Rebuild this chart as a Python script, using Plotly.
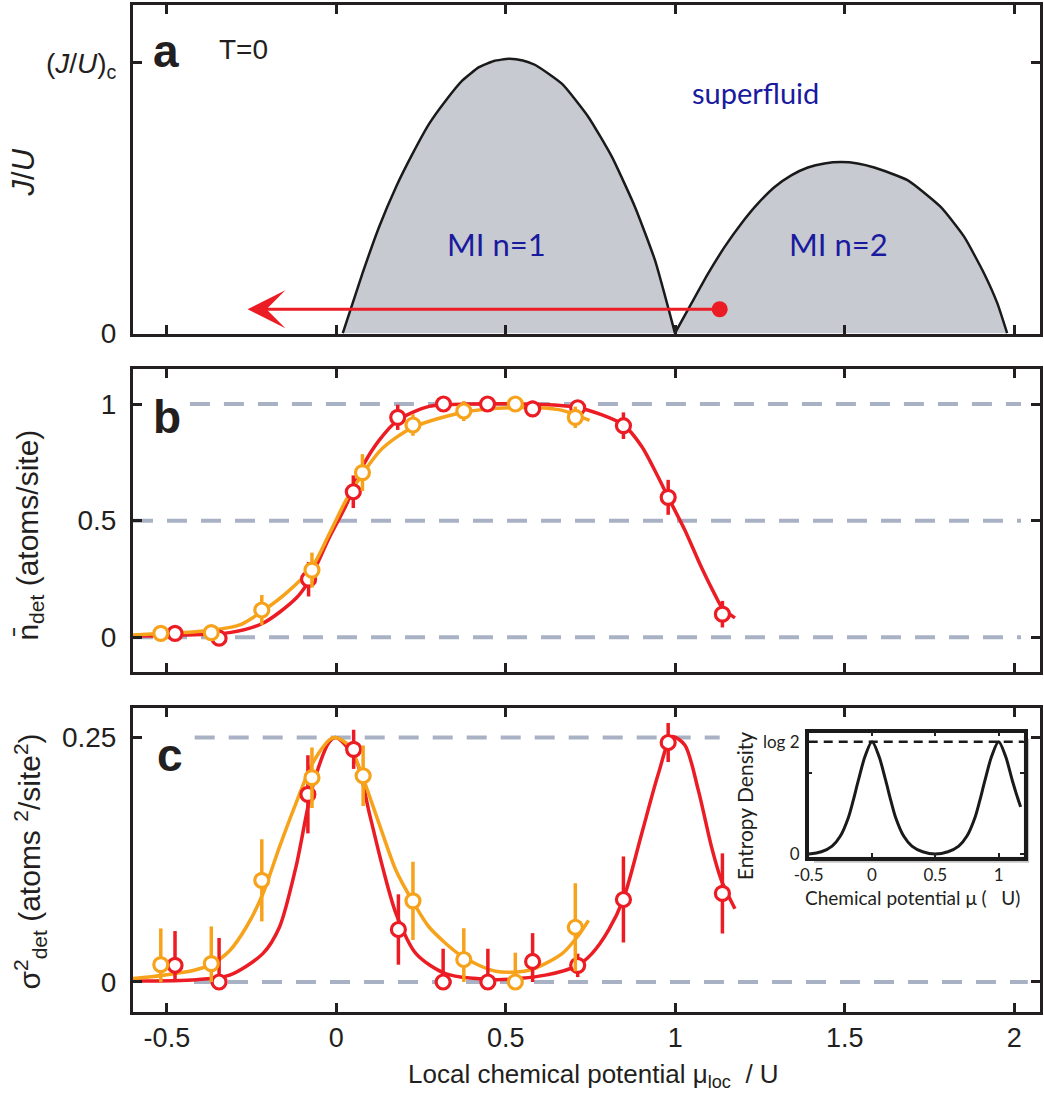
import plotly.graph_objects as go

# ---------------- data ----------------
X_TICKS = [-0.5, 0, 0.5, 1, 1.5, 2]
X_TICK_TEXT = ["-0.5", "0", "0.5", "1", "1.5", "2"]

# panel a : Mott lobe boundaries (J/U in units of (J/U)c)
lobe1_x = [0.019, 0.077, 0.126, 0.176, 0.225, 0.274, 0.323, 0.372, 0.421, 0.465, 0.509, 0.55, 0.587, 0.666, 0.744, 0.813, 0.881, 0.940, 0.999]
lobe1_y = [0.0, 0.221, 0.393, 0.541, 0.664, 0.775, 0.861, 0.935, 0.984, 1.007, 1.015, 1.009, 0.992, 0.922, 0.799, 0.652, 0.467, 0.270, 0.0]
lobe2_x = [0.999, 1.048, 1.097, 1.146, 1.195, 1.244, 1.293, 1.342, 1.391, 1.44, 1.489, 1.538, 1.587, 1.685, 1.783, 1.852, 1.911, 1.950, 1.979]
lobe2_y = [0.0, 0.111, 0.221, 0.320, 0.406, 0.480, 0.541, 0.584, 0.613, 0.628, 0.633, 0.628, 0.613, 0.566, 0.467, 0.357, 0.221, 0.111, 0.0]
arrow_start = [1.131, 0.0886]
arrow_end = [-0.262, 0.0886]

# panel b : mean detected occupation
b_red_x = [-0.476, -0.346, -0.082, 0.050, 0.181, 0.316, 0.446, 0.579, 0.712, 0.847, 0.979, 1.139]
b_red_y = [0.017, -0.004, 0.249, 0.624, 0.943, 1.0, 1.0, 0.979, 0.984, 0.907, 0.600, 0.099]
b_red_err = [0.02, 0.02, 0.074, 0.07, 0.054, 0.02, 0.02, 0.035, 0.02, 0.057, 0.075, 0.057]
b_orange_x = [-0.518, -0.369, -0.220, -0.072, 0.077, 0.226, 0.376, 0.528, 0.705]
b_orange_y = [0.017, 0.02, 0.117, 0.288, 0.706, 0.91, 0.97, 1.0, 0.943]
b_orange_err = [0.02, 0.03, 0.064, 0.075, 0.079, 0.046, 0.043, 0.02, 0.046]
b_red_fit_x = [-0.6, -0.45, -0.315, -0.217, -0.119, -0.082, -0.02, 0.029, 0.077, 0.126, 0.181, 0.274, 0.4, 0.55, 0.712, 0.847, 0.901, 0.949, 0.979, 1.028, 1.077, 1.116, 1.139, 1.176]
b_red_fit_y = [0.005, 0.01, 0.02, 0.06, 0.167, 0.24, 0.43, 0.567, 0.731, 0.844, 0.93, 0.99, 1.0, 1.0, 0.985, 0.91, 0.818, 0.688, 0.60, 0.46, 0.30, 0.185, 0.125, 0.083]
b_orange_fit_x = [-0.6, -0.45, -0.369, -0.285, -0.22, -0.148, -0.072, -0.02, 0.029, 0.077, 0.136, 0.226, 0.376, 0.528, 0.656, 0.747]
b_orange_fit_y = [0.01, 0.02, 0.03, 0.053, 0.11, 0.189, 0.3, 0.446, 0.589, 0.70, 0.81, 0.9, 0.965, 0.985, 0.976, 0.93]

# panel c : detected variance (error bars: upper / lower)
c_red_x = [-0.476, -0.346, -0.084, 0.051, 0.183, 0.315, 0.447, 0.579, 0.712, 0.847, 0.979, 1.139]
c_red_y = [0.0171, 0.0, 0.192, 0.238, 0.0537, 0.0, 0.0, 0.021, 0.017, 0.0844, 0.245, 0.0906]
c_red_err_up = [0.035, 0.045, 0.04, 0.02, 0.036, 0.034, 0.034, 0.029, 0.012, 0.044, 0.02, 0.041]
c_red_err_down = [0.017, 0.0, 0.04, 0.02, 0.036, 0.0, 0.0, 0.021, 0.012, 0.044, 0.02, 0.041]
c_orange_x = [-0.518, -0.369, -0.220, -0.072, 0.079, 0.226, 0.376, 0.528, 0.705]
c_orange_y = [0.0178, 0.0188, 0.104, 0.209, 0.211, 0.083, 0.023, 0.0, 0.056]
c_orange_err_up = [0.037, 0.038, 0.042, 0.031, 0.031, 0.04, 0.032, 0.03, 0.045]
c_orange_err_down = [0.0178, 0.0188, 0.042, 0.031, 0.031, 0.04, 0.023, 0.0, 0.045]
c_red_fit_x = [-0.6, -0.413, -0.315, -0.217, -0.168, -0.119, -0.07, -0.02, 0.0, 0.058, 0.097, 0.136, 0.176, 0.235, 0.322, 0.47, 0.617, 0.712, 0.754, 0.803, 0.847, 0.901, 0.95, 0.99, 1.028, 1.068, 1.107, 1.136, 1.176]
c_red_fit_y = [0.001, 0.0024, 0.007, 0.029, 0.056, 0.118, 0.2, 0.246, 0.25, 0.227, 0.173, 0.118, 0.07, 0.029, 0.0086, 0.0024, 0.007, 0.017, 0.029, 0.053, 0.085, 0.152, 0.213, 0.251, 0.2425, 0.196, 0.138, 0.104, 0.075]
c_orange_fit_x = [-0.6, -0.511, -0.42, -0.369, -0.315, -0.266, -0.217, -0.168, -0.119, -0.07, -0.02, 0.0, 0.039, 0.077, 0.126, 0.176, 0.226, 0.274, 0.372, 0.47, 0.568, 0.666, 0.715, 0.744]
c_orange_fit_y = [0.0035, 0.007, 0.012, 0.018, 0.032, 0.056, 0.09, 0.138, 0.183, 0.224, 0.248, 0.25, 0.241, 0.21, 0.162, 0.114, 0.082, 0.056, 0.026, 0.011, 0.012, 0.029, 0.048, 0.063]

# inset : entropy density (nats, log 2 = 0.693)
inset_x = [-0.5, -0.4, -0.315, -0.25, -0.185, -0.15, -0.107, -0.055, 0.0, 0.055, 0.107, 0.15, 0.185, 0.25, 0.315, 0.4, 0.5,
           0.6, 0.685, 0.75, 0.815, 0.85, 0.893, 0.945, 1.0, 1.055, 1.107, 1.15, 1.174]
inset_y = [0.0, 0.014, 0.049, 0.111, 0.229, 0.326, 0.457, 0.603, 0.693, 0.603, 0.457, 0.326, 0.229, 0.111, 0.049, 0.014, 0.0,
           0.014, 0.049, 0.111, 0.229, 0.326, 0.457, 0.603, 0.693, 0.603, 0.457, 0.347, 0.291]
LOG2 = 0.693

# ---------------- styles ----------------
RED = "#ec1c24"
ORANGE = "#f7a21b"
GRAY_DASH = "#a9b1c5"
FILL = "#c7cad1"
BLUE = "#1a1a9e"
INK = "#231f20"
ARIAL = "Liberation Sans, Arial, sans-serif"
NARROW = "Liberation Sans Narrow, Arial Narrow, Liberation Sans, sans-serif"
MYRIAD = "Lato, Noto Sans, sans-serif"

fig = go.Figure()

# panel a lobes
for lx, ly in [(lobe1_x, lobe1_y), (lobe2_x, lobe2_y)]:
    fig.add_trace(go.Scatter(x=lx, y=ly, mode="lines", fill="toself", fillcolor=FILL,
                             line=dict(color="#1a1a1a", width=2.5, shape="spline", smoothing=0.5),
                             xaxis="x", yaxis="y", showlegend=False, hoverinfo="skip"))
fig.add_trace(go.Scatter(x=[arrow_start[0], arrow_end[0] + 0.05], y=[arrow_start[1], arrow_end[1]], mode="lines",
                         line=dict(color=RED, width=3), xaxis="x", yaxis="y", showlegend=False))
fig.add_trace(go.Scatter(x=[arrow_start[0]], y=[arrow_start[1]], mode="markers",
                         marker=dict(color=RED, size=16), xaxis="x", yaxis="y", showlegend=False))


def fit(x, y, color, ax):
    fig.add_trace(go.Scatter(x=x, y=y, mode="lines", line=dict(color=color, width=3.5, shape="spline", smoothing=0.8),
                             xaxis="x" + ax, yaxis="y" + ax, showlegend=False, hoverinfo="skip"))


def pts(x, y, e_up, e_down, color, ax):
    fig.add_trace(go.Scatter(x=x, y=y, mode="markers",
                             marker=dict(symbol="circle", size=14, color="white", line=dict(color=color, width=3.2)),
                             error_y=dict(type="data", array=e_up, arrayminus=e_down, symmetric=False, visible=True,
                                          color=color, thickness=3.5, width=0),
                             xaxis="x" + ax, yaxis="y" + ax, showlegend=False))


fit(b_red_fit_x, b_red_fit_y, RED, "2")
fit(b_orange_fit_x, b_orange_fit_y, ORANGE, "2")
pts(b_red_x, b_red_y, b_red_err, b_red_err, RED, "2")
pts(b_orange_x, b_orange_y, b_orange_err, b_orange_err, ORANGE, "2")

fit(c_red_fit_x, c_red_fit_y, RED, "3")
fit(c_orange_fit_x, c_orange_fit_y, ORANGE, "3")
pts(c_red_x, c_red_y, c_red_err_up, c_red_err_down, RED, "3")
pts(c_orange_x, c_orange_y, c_orange_err_up, c_orange_err_down, ORANGE, "3")

# inset
fig.add_trace(go.Scatter(x=inset_x, y=inset_y, mode="lines", line=dict(color="#1a1a1a", width=3, shape="spline", smoothing=0.9),
                         xaxis="x4", yaxis="y4", showlegend=False))

# ---------------- layout ----------------
XR = [-0.6, 2.076]
common_x = dict(range=XR, tickvals=X_TICKS, ticktext=X_TICK_TEXT, ticks="inside", ticklen=9, tickwidth=3,
                tickcolor=INK, showline=True, linewidth=3, linecolor=INK, mirror="ticks", showgrid=False,
                zeroline=False, domain=[0, 1])
common_y = dict(ticks="inside", ticklen=9, tickwidth=3, tickcolor=INK, showline=True, linewidth=3, linecolor=INK,
                mirror="ticks", showgrid=False, zeroline=False, tickfont=dict(family=ARIAL, size=28, color=INK),
                ticklabelstandoff=8)

shapes = []
# dashed reference lines
for (x0, x1, y, ref) in [(-0.6, 2.02, 0.0, "2"), (-0.6, 2.02, 0.5, "2"), (-0.432, 2.02, 1.0, "2"),
                         (-0.42, 2.04, 0.0, "3"), (-0.418, 1.131, 0.25, "3")]:
    shapes.append(dict(type="line", xref="x" + ref, yref="y" + ref, x0=x0, x1=x1, y0=y, y1=y,
                       line=dict(color=GRAY_DASH, width=4, dash="20px,14px"), layer="below"))
# inset shadow and background
ix0, ix1, iy0, iy1 = 0.745, 0.982, 0.1542, 0.2774
shapes.append(dict(type="rect", xref="paper", yref="paper", x0=ix0 + 0.006, x1=ix1 + 0.006, y0=iy0 - 0.006, y1=iy1 - 0.006,
                   fillcolor="#c4c4c4", line=dict(width=0), layer="below"))
shapes.append(dict(type="rect", xref="paper", yref="paper", x0=ix0 + 0.003, x1=ix1 + 0.003, y0=iy0 - 0.003, y1=iy1 - 0.003,
                   fillcolor="#8a8a8a", line=dict(width=0), layer="below"))
shapes.append(dict(type="rect", xref="paper", yref="paper", x0=ix0, x1=ix1, y0=iy0, y1=iy1,
                   fillcolor="white", line=dict(width=0), layer="below"))
shapes.append(dict(type="line", xref="x4", yref="y4", x0=-0.5, x1=1.198, y0=LOG2, y1=LOG2,
                   line=dict(color="#1a1a1a", width=2.5, dash="9px,6px")))


def pa(x, y, text, size, family=ARIAL, angle=0, color=INK):
    return dict(x=x, y=y, xref="paper", yref="paper", xanchor="center", yanchor="middle", text=text,
                textangle=angle, showarrow=False, font=dict(family=family, size=size, color=color))


def da(x, y, ref, text, size, family=ARIAL, color=INK):
    return dict(x=x, y=y, xref="x" + ref, yref="y" + ref, xanchor="center", yanchor="middle", text=text,
                showarrow=False, font=dict(family=family, size=size, color=color))


annotations = [
    dict(x=arrow_end[0], y=arrow_end[1], ax=arrow_end[0] + 0.06, ay=arrow_end[1], xref="x", yref="y", axref="x", ayref="y",
         showarrow=True, arrowhead=3, arrowsize=2.1, arrowwidth=3, arrowcolor=RED, text=""),
    da(-0.503, 1.045, "", "<b>a</b>", 46),
    da(-0.274, 1.05, "", "T=0", 28),
    da(1.238, 0.89, "", "superfluid", 29, MYRIAD, BLUE),
    da(0.471, 0.329, "", "MI n=1", 31, MYRIAD, BLUE),
    da(1.482, 0.329, "", "MI n=2", 31, MYRIAD, BLUE),
    da(-0.5, 0.945, "2", "<b>b</b>", 46),
    da(-0.49, 0.232, "3", "<b>c</b>", 46),
    pa(-0.121, 0.834, "<i>J</i>/<i>U</i>", 31, angle=-90),
    pa(-0.114, 0.4737, "n\u0304<sub>det</sub> (atoms/site)", 30, angle=-90),
    pa(-0.114, 0.149, "σ<sup>2</sup><sub>det</sub> (atoms <sup>2</sup>/site<sup>2</sup>)", 30, angle=-90),
    pa(0.508, -0.0626, "Local chemical potential μ<sub>loc</sub>  / U", 26, NARROW),
    pa(0.675, 0.2046, "Entropy Density", 21, MYRIAD, angle=-90),
    pa(0.859, 0.1142, "Chemical potential μ (   U)", 19, MYRIAD),
]

fig.update_layout(
    width=1044, height=1100,
    margin=dict(l=133, r=1, t=5, b=88),
    paper_bgcolor="white", plot_bgcolor="white",
    showlegend=False,
    xaxis=dict(common_x, anchor="y", showticklabels=False),
    xaxis2=dict(common_x, anchor="y2", showticklabels=False),
    xaxis3=dict(common_x, anchor="y3", showticklabels=True, tickfont=dict(family=NARROW, size=27, color=INK)),
    yaxis=dict(common_y, domain=[0.6733, 1.0], anchor="x", range=[-0.003, 1.214], tickvals=[0, 1],
               ticktext=["0", "(<i>J</i>/<i>U</i>)<sub>c</sub>"]),
    yaxis2=dict(common_y, domain=[0.3376, 0.6385], anchor="x2", range=[-0.149, 1.15], tickvals=[0, 0.5, 1],
                ticktext=["0", "0.5", "1"]),
    yaxis3=dict(common_y, domain=[0.0, 0.3016], anchor="x3", range=[-0.0307, 0.280], tickvals=[0, 0.25],
                ticktext=["0", "0.25"]),
    xaxis4=dict(domain=[ix0, ix1], anchor="y4", range=[-0.5, 1.198], tickvals=[-0.5, 0, 0.5, 1],
                ticktext=["-0.5", "0", "0.5", "1"], ticks="inside", ticklen=4, tickwidth=2, tickcolor=INK,
                showline=True, linewidth=3.5, linecolor="#1a1a1a", mirror="ticks", showgrid=False, zeroline=False,
                tickfont=dict(family=MYRIAD, size=17, color=INK)),
    yaxis4=dict(domain=[iy0, iy1], anchor="x4", range=[-0.0166, 0.749], tickvals=[0, 0.5, LOG2],
                ticktext=["0", "", "log 2"], ticks="inside", ticklen=4, tickwidth=2, tickcolor=INK,
                showline=True, linewidth=3.5, linecolor="#1a1a1a", mirror="ticks", showgrid=False, zeroline=False,
                tickfont=dict(family=MYRIAD, size=17, color=INK), ticklabelstandoff=2),
    shapes=shapes,
    annotations=annotations,
)

fig.write_html("out.html")
